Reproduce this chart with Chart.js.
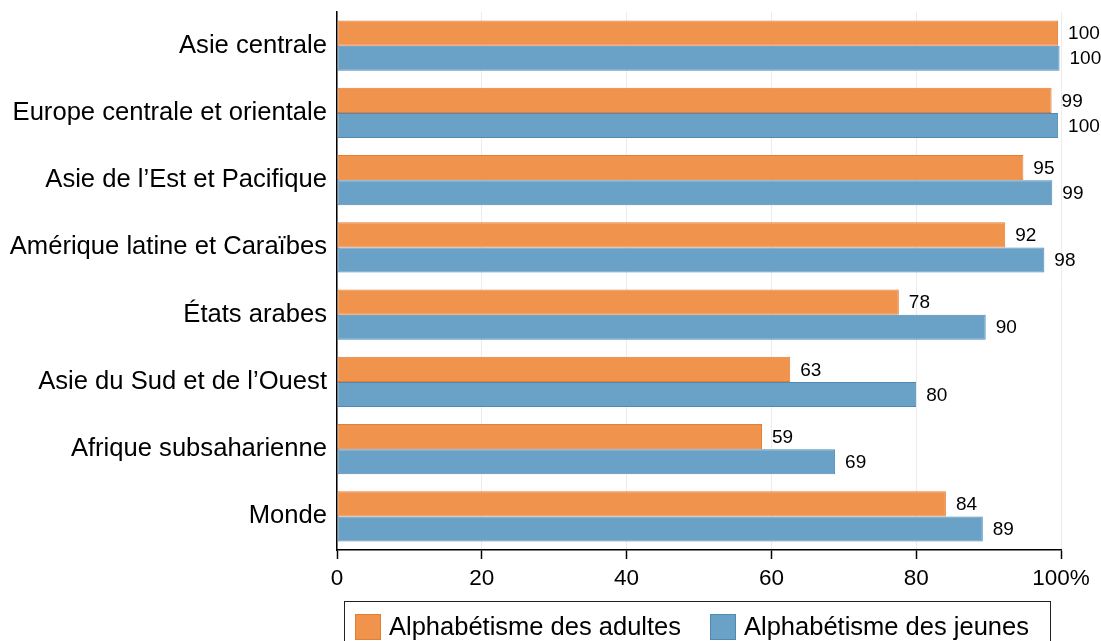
<!DOCTYPE html>
<html lang="fr">
<head>
<meta charset="utf-8">
<script src="https://cdn.jsdelivr.net/npm/chart.js@4/dist/chart.umd.min.js"></script>
<style>
  html, body { margin: 0; padding: 0; background: #fff; }
  #wrap { position: relative; width: 1101px; height: 641px; overflow: hidden; }
  #legend {
    position: absolute; left: 344px; top: 601px; width: 707px; height: 60px;
    border: 1.5px solid #222; box-sizing: border-box;
    font-family: "Liberation Sans", Arial, sans-serif; font-size: 25.5px; color: #000;
  }
  .lg-item { position: absolute; top: 10px; display: flex; align-items: center; }
  .lg-box { width: 26px; height: 26px; margin-right: 8px; box-sizing: border-box; }
</style>
</head>
<body>
<div id="wrap">
  <canvas id="chart"></canvas>
  <div id="legend"></div>
</div>
<script>
'use strict';

/* ── Données ── */
const REGIONS = [
  'Asie centrale',
  'Europe centrale et orientale',
  'Asie de l\u2019Est et Pacifique',
  'Amérique latine et Caraïbes',
  'États arabes',
  'Asie du Sud et de l\u2019Ouest',
  'Afrique subsaharienne',
  'Monde',
];
const ADULTES = [99.6, 98.7, 94.8, 92.3, 77.6, 62.6, 58.7, 84.1];
const JEUNES  = [99.8, 99.6, 98.8, 97.7, 89.6, 80.0, 68.8, 89.2];
const X_TICKS = [0, 20, 40, 60, 80, 100];

const SERIES_NAMES = ['Alphabétisme des adultes', 'Alphabétisme des jeunes'];
const FILL   = ['#F0934D', '#6AA2C7'];
const BORDER = ['#E47D35', '#4F89B4'];
const FONT = '"Liberation Sans", Arial, sans-serif';

/* Étiquettes de valeur au bout des barres */
const valueLabels = {
  id: 'valueLabels',
  afterDatasetsDraw(chart) {
    const ctx = chart.ctx;
    ctx.save();
    ctx.font = '19px ' + FONT;
    ctx.fillStyle = '#000';
    ctx.textAlign = 'left';
    ctx.textBaseline = 'middle';
    chart.data.datasets.forEach((ds, i) => {
      chart.getDatasetMeta(i).data.forEach((bar, j) => {
        ctx.fillText(String(Math.round(ds.data[j])), bar.x + 10, bar.y + 1);
      });
    });
    ctx.restore();
  },
};

new Chart(document.getElementById('chart'), {
  type: 'bar',
  data: {
    labels: REGIONS,
    datasets: [ADULTES, JEUNES].map((d, i) => ({
      label: SERIES_NAMES[i],
      data: d,
      backgroundColor: FILL[i],
      borderColor: BORDER[i],
      borderWidth: 1,
      borderSkipped: false,
      barPercentage: 1,
      categoryPercentage: 0.75,
    })),
  },
  options: {
    indexAxis: 'y',
    responsive: true,
    maintainAspectRatio: false,
    animation: false,
    layout: { padding: { top: 12, right: 40, bottom: 51, left: 0 } },
    plugins: { legend: { display: false }, tooltip: { enabled: false } },
    scales: {
      x: {
        min: 0, max: 100,
        afterBuildTicks: s => { s.ticks = X_TICKS.map(v => ({ value: v })); },
        afterFit: s => { s.height = 40; s.paddingLeft = 0; s.paddingRight = 0; },
        grid: { color: '#ECECEC', lineWidth: 1, tickColor: '#000', tickLength: 9, tickWidth: 1.5 },
        border: { display: true, color: '#000', width: 1.5 },
        ticks: {
          color: '#000', padding: 6,
          font: { family: FONT, size: 22.5 },
          callback: v => v === 100 ? '100%' : String(v),
        },
      },
      y: {
        afterFit: s => { s.width = 337; s.paddingTop = 0; s.paddingBottom = 0; },
        grid: { display: false, drawTicks: false },
        border: { display: true, color: '#000', width: 1.5 },
        ticks: { color: '#000', padding: 10, font: { family: FONT, size: 25.6 } },
      },
    },
  },
  plugins: [valueLabels],
});

/* Légende manuelle encadrée */
document.getElementById('legend').innerHTML = SERIES_NAMES.map((n, i) => `
  <span class="lg-item" style="left:${i === 0 ? 10 : 365}px">
    <span class="lg-box" style="background:${FILL[i]};border:1.5px solid ${BORDER[i]}"></span>${n}
  </span>`).join('');
</script>
</body>
</html>
